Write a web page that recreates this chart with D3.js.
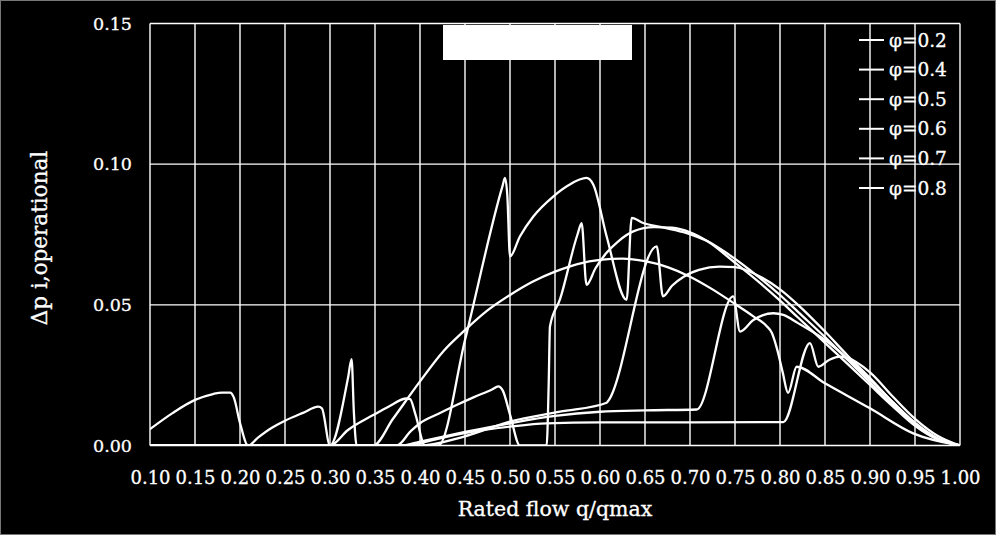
<!DOCTYPE html>
<html>
<head>
<meta charset="utf-8">
<script src="https://cdn.jsdelivr.net/npm/d3@7"></script>
<style>
html,body{margin:0;padding:0;background:#000;}
svg{display:block;}
text{font-family:"DejaVu Serif","Liberation Serif",serif;fill:#fff;stroke:#fff;stroke-width:0.3px;}
</style>
</head>
<body>
<svg id="chart" width="996" height="535"></svg>
<script>
// ---------- data ----------
const xTicks = [0.10,0.15,0.20,0.25,0.30,0.35,0.40,0.45,0.50,0.55,0.60,0.65,0.70,0.75,0.80,0.85,0.90,0.95,1.00];
const yTicks = [0.00,0.05,0.10,0.15];
const seriesNames = ["φ=0.2","φ=0.4","φ=0.5","φ=0.6","φ=0.7","φ=0.8"];

const phi02 = [[0.10,0.0058],[0.125,0.0115],[0.15,0.0162],[0.17,0.0183],[0.18,0.0188],[0.189,0.0188],[0.193,0.0172],[0.200,0.008],[0.209,0],
 [0.22,0.0028],[0.235,0.0062],[0.25,0.0088],[0.27,0.0116],[0.287,0.0138],[0.291,0.0132],[0.30,0],
 [0.320,0.024],[0.324,0.0307],[0.3265,0.012],[0.3296,0],[0.348,0],
 [0.37,0.0095],[0.40,0.0228],[0.426,0.0335],[0.45,0.041],[0.475,0.048],[0.50,0.0535],[0.525,0.0582],[0.55,0.0618],[0.575,0.0645],[0.60,0.066],[0.625,0.0664],[0.65,0.0655],[0.675,0.0634],[0.70,0.060],[0.725,0.0555],[0.75,0.0503],[0.77,0.046],[0.785,0.0425],[0.791,0.040],[0.797,0.034],[0.803,0.026],[0.809,0.0187],[0.8185,0.028],[0.85,0.0221],[0.90,0.0132],[0.948,0.0043],[1.0,0]];

const phi04 = [[0.10,0],[0.30,0],[0.32,0.0055],[0.348,0.0108],[0.365,0.0138],[0.385,0.0167],[0.389,0.0165],[0.395,0.011],[0.4056,0],[0.4204,0],
 [0.45,0.0375],[0.4915,0.092],[0.4944,0.0951],[0.497,0.089],[0.50,0.0672],[0.511,0.0743],[0.5259,0.0814],[0.548,0.0885],[0.565,0.0925],[0.585,0.0951],[0.5926,0.0927],[0.6074,0.0743],[0.6296,0.0518],[0.6352,0.0809],
 [0.648,0.0791],[0.67,0.0775],[0.6963,0.0755],[0.72,0.0725],[0.7407,0.0684],[0.7778,0.0595],[0.80,0.0535],[0.82,0.0475],[0.85,0.0385],[0.875,0.0305],[0.90,0.0225],[0.925,0.0145],[0.95,0.0075],[0.975,0.0025],[1.0,0]];

const phi05 = [[0.10,0],[0.374,0],[0.39,0.0052],[0.40,0.0079],[0.42,0.0112],[0.44,0.0143],[0.46,0.0172],[0.48,0.0199],[0.487,0.021],[0.492,0.0195],[0.50,0.011],[0.511,0],[0.5407,0],
 [0.543,0.022],[0.5444,0.0423],[0.5556,0.052],[0.575,0.075],[0.5796,0.079],[0.585,0.0571],
 [0.595,0.063],[0.607,0.0684],[0.62,0.0725],[0.637,0.0761],[0.66,0.0776],[0.68,0.0774],[0.70,0.0758],[0.72,0.0725],[0.748,0.0655],[0.778,0.0577],[0.80,0.0515],[0.82,0.0455],[0.85,0.0365],[0.875,0.029],[0.90,0.0215],[0.925,0.014],[0.95,0.007],[0.975,0.0022],[1.0,0]];

const phi06 = [[0.10,0],[0.40,0],[0.448,0.0031],[0.50,0.0085],[0.5556,0.012],[0.6074,0.0152],[0.609,0.0158],
 [0.663,0.0708],[0.670,0.053],[0.68,0.0568],[0.693,0.060],[0.71,0.0624],[0.733,0.0636],[0.75,0.0634],[0.778,0.060],[0.80,0.0555],[0.82,0.050],[0.85,0.0405],[0.875,0.032],[0.90,0.024],[0.925,0.0155],[0.95,0.008],[0.975,0.0025],[1.0,0]];

const phi07 = [[0.10,0],[0.38,0],[0.40,0.0014],[0.45,0.0048],[0.50,0.0079],[0.55,0.0105],[0.60,0.012],[0.65,0.0125],[0.7074,0.0128],
 [0.748,0.053],[0.7556,0.0405],[0.77,0.0445],[0.7926,0.047],[0.8037,0.0464],[0.82,0.0435],[0.85,0.0375],[0.875,0.031],[0.90,0.0235],[0.925,0.0155],[0.95,0.008],[0.975,0.0025],[1.0,0]];

const phi08 = [[0.10,0],[0.39,0],[0.40,0.0008],[0.448,0.0043],[0.50,0.0067],[0.5407,0.0079],[0.60,0.0082],[0.70,0.0082],[0.8037,0.0083],
 [0.8333,0.0364],[0.8426,0.028],[0.855,0.0305],[0.8667,0.0316],[0.874,0.0312],[0.90,0.026],[0.925,0.0175],[0.95,0.0095],[0.975,0.0035],[1.0,0]];

const seriesData = [phi02,phi04,phi05,phi06,phi07,phi08];

// ---------- layout ----------
const svg = d3.select("#chart");
const W = 996, H = 535;
const plot = {left:150, right:960, top:23.5, bottom:445.5};

svg.append("rect").attr("x",0).attr("y",0).attr("width",W).attr("height",H).attr("fill","#000");
svg.append("rect").attr("x",0.5).attr("y",0.5).attr("width",W-1).attr("height",H-1)
  .attr("fill","none").attr("stroke","#777").attr("stroke-width",1);

const x = d3.scaleLinear().domain([0.10,1.00]).range([plot.left,plot.right]);
const y = d3.scaleLinear().domain([0,0.15]).range([plot.bottom,plot.top]);

// grid
const grid = svg.append("g");
grid.selectAll("line.v").data(xTicks).enter().append("line")
  .attr("x1",d=>x(d)).attr("x2",d=>x(d)).attr("y1",plot.top).attr("y2",plot.bottom)
  .attr("stroke","#fff").attr("stroke-width",1.4);
grid.selectAll("line.h").data(yTicks).enter().append("line")
  .attr("x1",plot.left).attr("x2",plot.right).attr("y1",d=>y(d)).attr("y2",d=>y(d))
  .attr("stroke","#fff").attr("stroke-width",1.4);

// axes labels via d3 axes
const xAxis = d3.axisBottom(x).tickValues(xTicks).tickFormat(d3.format(".2f")).tickSize(0).tickPadding(26);
const gx = svg.append("g").attr("transform",`translate(0,${plot.bottom})`).call(xAxis);
gx.select(".domain").remove();
gx.selectAll("text").attr("fill","#fff").style("font-family","'DejaVu Serif',serif").style("font-size","18px");

const yAxis = d3.axisLeft(y).tickValues(yTicks).tickFormat(d3.format(".2f")).tickSize(0).tickPadding(18);
const gy = svg.append("g").attr("transform",`translate(${plot.left},0)`).call(yAxis);
gy.select(".domain").remove();
gy.selectAll("text").attr("fill","#fff").style("font-family","'DejaVu Serif',serif").style("font-size","17.5px");

// series
const line = d3.line().x(d=>x(d[0])).y(d=>y(d[1])).curve(d3.curveMonotoneX);
svg.append("clipPath").attr("id","clip").append("rect")
  .attr("x",plot.left).attr("y",plot.top-2).attr("width",plot.right-plot.left).attr("height",plot.bottom-plot.top+2);
svg.append("g").attr("clip-path","url(#clip)").selectAll("path").data(seriesData).enter().append("path")
  .attr("d",line).attr("fill","none").attr("stroke","#fff").attr("stroke-width",2.3)
  .attr("stroke-linejoin","round");

// white box (title placeholder)
svg.append("rect").attr("x",443).attr("y",25).attr("width",189).attr("height",35).attr("fill","#fff");

// legend
const leg = svg.append("g");
seriesNames.forEach((n,i)=>{
  const yy = 40 + i*29.6;
  leg.append("line").attr("x1",859).attr("x2",884).attr("y1",yy).attr("y2",yy).attr("stroke","#fff").attr("stroke-width",2);
  leg.append("text").attr("x",889).attr("y",yy+6.5).style("font-size","18.5px").text(n);
});

// titles
svg.append("text").attr("x",555).attr("y",516).attr("text-anchor","middle").style("font-size","20.5px").text("Rated flow q/qmax");
svg.append("text").attr("transform","translate(47,238) rotate(-90)").attr("text-anchor","middle").style("font-size","21.5px").text("Δp i,operational");
</script>
</body>
</html>
